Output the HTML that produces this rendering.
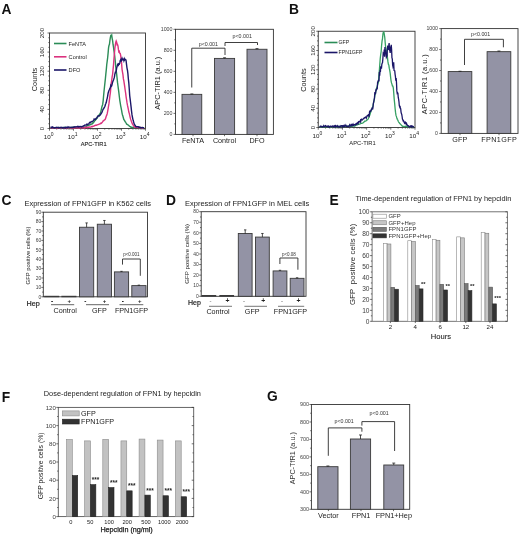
<!DOCTYPE html>
<html><head><meta charset="utf-8"><style>
html,body{margin:0;padding:0;background:#fff;width:520px;height:534px;overflow:hidden}
svg{display:block;will-change:transform}
text{font-family:"Liberation Sans", sans-serif}
</style></head><body>
<svg width="520" height="534" viewBox="0 0 520 534" font-family='"Liberation Sans", sans-serif'>
<rect width="520" height="534" fill="#fff"/>
<text x="1.6" y="14.2" font-size="13.8" text-anchor="start" font-weight="bold" fill="#111">A</text>
<rect x="49.5" y="33" width="96" height="95.5" fill="none" stroke="#333" stroke-width="0.9"/>
<line x1="49.5" y1="128.5" x2="49.5" y2="130.7" stroke="#333" stroke-width="0.7"/>
<line x1="56.72" y1="128.5" x2="56.72" y2="129.7" stroke="#333" stroke-width="0.6"/>
<line x1="60.95" y1="128.5" x2="60.95" y2="129.7" stroke="#333" stroke-width="0.6"/>
<line x1="63.95" y1="128.5" x2="63.95" y2="129.7" stroke="#333" stroke-width="0.6"/>
<line x1="66.28" y1="128.5" x2="66.28" y2="129.7" stroke="#333" stroke-width="0.6"/>
<line x1="68.18" y1="128.5" x2="68.18" y2="129.7" stroke="#333" stroke-width="0.6"/>
<line x1="69.78" y1="128.5" x2="69.78" y2="129.7" stroke="#333" stroke-width="0.6"/>
<line x1="71.17" y1="128.5" x2="71.17" y2="129.7" stroke="#333" stroke-width="0.6"/>
<line x1="72.4" y1="128.5" x2="72.4" y2="129.7" stroke="#333" stroke-width="0.6"/>
<text x="47.2" y="139.1" font-size="6.2" text-anchor="middle" font-weight="normal" fill="#222">10</text>
<text x="52.1" y="136.1" font-size="5" text-anchor="middle" font-weight="normal" fill="#222">0</text>
<line x1="73.5" y1="128.5" x2="73.5" y2="130.7" stroke="#333" stroke-width="0.7"/>
<line x1="80.72" y1="128.5" x2="80.72" y2="129.7" stroke="#333" stroke-width="0.6"/>
<line x1="84.95" y1="128.5" x2="84.95" y2="129.7" stroke="#333" stroke-width="0.6"/>
<line x1="87.95" y1="128.5" x2="87.95" y2="129.7" stroke="#333" stroke-width="0.6"/>
<line x1="90.28" y1="128.5" x2="90.28" y2="129.7" stroke="#333" stroke-width="0.6"/>
<line x1="92.18" y1="128.5" x2="92.18" y2="129.7" stroke="#333" stroke-width="0.6"/>
<line x1="93.78" y1="128.5" x2="93.78" y2="129.7" stroke="#333" stroke-width="0.6"/>
<line x1="95.17" y1="128.5" x2="95.17" y2="129.7" stroke="#333" stroke-width="0.6"/>
<line x1="96.4" y1="128.5" x2="96.4" y2="129.7" stroke="#333" stroke-width="0.6"/>
<text x="71.2" y="139.1" font-size="6.2" text-anchor="middle" font-weight="normal" fill="#222">10</text>
<text x="76.1" y="136.1" font-size="5" text-anchor="middle" font-weight="normal" fill="#222">1</text>
<line x1="97.5" y1="128.5" x2="97.5" y2="130.7" stroke="#333" stroke-width="0.7"/>
<line x1="104.72" y1="128.5" x2="104.72" y2="129.7" stroke="#333" stroke-width="0.6"/>
<line x1="108.95" y1="128.5" x2="108.95" y2="129.7" stroke="#333" stroke-width="0.6"/>
<line x1="111.95" y1="128.5" x2="111.95" y2="129.7" stroke="#333" stroke-width="0.6"/>
<line x1="114.28" y1="128.5" x2="114.28" y2="129.7" stroke="#333" stroke-width="0.6"/>
<line x1="116.18" y1="128.5" x2="116.18" y2="129.7" stroke="#333" stroke-width="0.6"/>
<line x1="117.78" y1="128.5" x2="117.78" y2="129.7" stroke="#333" stroke-width="0.6"/>
<line x1="119.17" y1="128.5" x2="119.17" y2="129.7" stroke="#333" stroke-width="0.6"/>
<line x1="120.4" y1="128.5" x2="120.4" y2="129.7" stroke="#333" stroke-width="0.6"/>
<text x="95.2" y="139.1" font-size="6.2" text-anchor="middle" font-weight="normal" fill="#222">10</text>
<text x="100.1" y="136.1" font-size="5" text-anchor="middle" font-weight="normal" fill="#222">2</text>
<line x1="121.5" y1="128.5" x2="121.5" y2="130.7" stroke="#333" stroke-width="0.7"/>
<line x1="128.72" y1="128.5" x2="128.72" y2="129.7" stroke="#333" stroke-width="0.6"/>
<line x1="132.95" y1="128.5" x2="132.95" y2="129.7" stroke="#333" stroke-width="0.6"/>
<line x1="135.95" y1="128.5" x2="135.95" y2="129.7" stroke="#333" stroke-width="0.6"/>
<line x1="138.28" y1="128.5" x2="138.28" y2="129.7" stroke="#333" stroke-width="0.6"/>
<line x1="140.18" y1="128.5" x2="140.18" y2="129.7" stroke="#333" stroke-width="0.6"/>
<line x1="141.78" y1="128.5" x2="141.78" y2="129.7" stroke="#333" stroke-width="0.6"/>
<line x1="143.17" y1="128.5" x2="143.17" y2="129.7" stroke="#333" stroke-width="0.6"/>
<line x1="144.4" y1="128.5" x2="144.4" y2="129.7" stroke="#333" stroke-width="0.6"/>
<text x="119.2" y="139.1" font-size="6.2" text-anchor="middle" font-weight="normal" fill="#222">10</text>
<text x="124.1" y="136.1" font-size="5" text-anchor="middle" font-weight="normal" fill="#222">3</text>
<line x1="145.5" y1="128.5" x2="145.5" y2="130.7" stroke="#333" stroke-width="0.7"/>
<text x="143.2" y="139.1" font-size="6.2" text-anchor="middle" font-weight="normal" fill="#222">10</text>
<text x="148.1" y="136.1" font-size="5" text-anchor="middle" font-weight="normal" fill="#222">4</text>
<line x1="47.5" y1="128.5" x2="49.5" y2="128.5" stroke="#333" stroke-width="0.7"/>
<text x="44.1" y="128.5" font-size="6.2" text-anchor="middle" font-weight="normal" fill="#222" transform="rotate(-90 44.1 128.5)">0</text>
<line x1="48.3" y1="123.72" x2="49.5" y2="123.72" stroke="#333" stroke-width="0.7"/>
<line x1="48.3" y1="118.95" x2="49.5" y2="118.95" stroke="#333" stroke-width="0.7"/>
<line x1="48.3" y1="114.17" x2="49.5" y2="114.17" stroke="#333" stroke-width="0.7"/>
<line x1="47.5" y1="109.4" x2="49.5" y2="109.4" stroke="#333" stroke-width="0.7"/>
<text x="44.1" y="109.4" font-size="6.2" text-anchor="middle" font-weight="normal" fill="#222" transform="rotate(-90 44.1 109.4)">40</text>
<line x1="48.3" y1="104.62" x2="49.5" y2="104.62" stroke="#333" stroke-width="0.7"/>
<line x1="48.3" y1="99.85" x2="49.5" y2="99.85" stroke="#333" stroke-width="0.7"/>
<line x1="48.3" y1="95.08" x2="49.5" y2="95.08" stroke="#333" stroke-width="0.7"/>
<line x1="47.5" y1="90.3" x2="49.5" y2="90.3" stroke="#333" stroke-width="0.7"/>
<text x="44.1" y="90.3" font-size="6.2" text-anchor="middle" font-weight="normal" fill="#222" transform="rotate(-90 44.1 90.3)">80</text>
<line x1="48.3" y1="85.53" x2="49.5" y2="85.53" stroke="#333" stroke-width="0.7"/>
<line x1="48.3" y1="80.75" x2="49.5" y2="80.75" stroke="#333" stroke-width="0.7"/>
<line x1="48.3" y1="75.97" x2="49.5" y2="75.97" stroke="#333" stroke-width="0.7"/>
<line x1="47.5" y1="71.2" x2="49.5" y2="71.2" stroke="#333" stroke-width="0.7"/>
<text x="44.1" y="71.2" font-size="6.2" text-anchor="middle" font-weight="normal" fill="#222" transform="rotate(-90 44.1 71.2)">120</text>
<line x1="48.3" y1="66.42" x2="49.5" y2="66.42" stroke="#333" stroke-width="0.7"/>
<line x1="48.3" y1="61.65" x2="49.5" y2="61.65" stroke="#333" stroke-width="0.7"/>
<line x1="48.3" y1="56.88" x2="49.5" y2="56.88" stroke="#333" stroke-width="0.7"/>
<line x1="47.5" y1="52.1" x2="49.5" y2="52.1" stroke="#333" stroke-width="0.7"/>
<text x="44.1" y="52.1" font-size="6.2" text-anchor="middle" font-weight="normal" fill="#222" transform="rotate(-90 44.1 52.1)">160</text>
<line x1="48.3" y1="47.33" x2="49.5" y2="47.33" stroke="#333" stroke-width="0.7"/>
<line x1="48.3" y1="42.55" x2="49.5" y2="42.55" stroke="#333" stroke-width="0.7"/>
<line x1="48.3" y1="37.78" x2="49.5" y2="37.78" stroke="#333" stroke-width="0.7"/>
<line x1="47.5" y1="33" x2="49.5" y2="33" stroke="#333" stroke-width="0.7"/>
<text x="44.1" y="33" font-size="6.2" text-anchor="middle" font-weight="normal" fill="#222" transform="rotate(-90 44.1 33)">200</text>
<text x="36.6" y="79.5" font-size="7.4" text-anchor="middle" font-weight="normal" fill="#222" transform="rotate(-90 36.6 79.5)">Counts</text>
<text x="93.6" y="145.5" font-size="5.7" text-anchor="middle" font-weight="normal" fill="#222" stroke="#222" stroke-width="0.1">APC-TIR1</text>
<line x1="54" y1="43.5" x2="66.5" y2="43.5" stroke="#2b8c57" stroke-width="1.6"/>
<text x="68.6" y="45.6" font-size="5.6" text-anchor="start" font-weight="normal" fill="#222">FeNTA</text>
<line x1="54" y1="56.8" x2="66.5" y2="56.8" stroke="#db327e" stroke-width="1.6"/>
<text x="68.6" y="58.9" font-size="5.6" text-anchor="start" font-weight="normal" fill="#222">Control</text>
<line x1="54" y1="70" x2="66.5" y2="70" stroke="#1b1668" stroke-width="1.6"/>
<text x="68.6" y="72.1" font-size="5.6" text-anchor="start" font-weight="normal" fill="#222">DFO</text>
<path d="M50.5 127.91 L50.95 128.1 L51.4 127.85 L51.85 128.03 L52.3 127.92 L52.75 127.86 L53.2 128.1 L53.65 128.05 L54.1 127.96 L54.55 128.03 L55 128.1 L55.45 128 L55.9 128.02 L56.35 127.79 L56.8 127.77 L57.25 127.75 L57.7 127.6 L58.15 127.49 L58.6 127.42 L59.05 127.6 L59.5 127.7 L59.95 127.72 L60.4 127.8 L60.85 127.61 L61.3 127.71 L61.75 127.81 L62.2 127.94 L62.65 127.76 L63.1 127.73 L63.55 127.47 L64 127.57 L64.45 127.35 L64.9 127.37 L65.35 127.77 L65.8 127.45 L66.25 127.76 L66.7 127.84 L67.15 127.78 L67.6 127.86 L68.05 127.92 L68.5 128.03 L68.95 127.88 L69.4 127.75 L69.85 127.68 L70.3 127.57 L70.75 127.65 L71.2 127.57 L71.65 127.81 L72.1 127.46 L72.55 127.4 L73 127.38 L73.45 127.18 L73.9 127.7 L74.35 127.28 L74.8 127.39 L75.25 127.4 L75.7 127.74 L76.15 127.32 L76.6 127.59 L77.05 127.43 L77.5 127.43 L77.95 127.34 L78.4 127.5 L78.85 127.28 L79.3 127.33 L79.75 127.42 L80.2 127.69 L80.65 127.14 L81.1 127.48 L81.55 127.55 L82 127.35 L82.45 127.37 L82.9 127.24 L83.35 127.51 L83.8 127.4 L84.25 127.27 L84.7 127.2 L85.15 127.09 L85.6 126.86 L86.05 126.51 L86.5 126.72 L86.95 126.04 L87.4 125.29 L87.85 125.41 L88.3 125.36 L88.75 125.31 L89.2 125.07 L89.65 124.85 L90.1 124.72 L90.55 124.66 L91 124.26 L91.45 123.96 L91.9 124.14 L92.35 123.63 L92.8 122.84 L93.25 122.9 L93.7 122.39 L94.15 121.62 L94.6 120.88 L95.05 120.6 L95.5 119.99 L95.95 119.4 L96.4 118.82 L96.85 118.25 L97.3 117.95 L97.75 117.03 L98.2 115.92 L98.65 115.56 L99.1 114.83 L99.55 114.31 L100 113.78 L100.45 112.74 L100.9 111.15 L101.35 109.31 L101.8 107.11 L102.25 105.75 L102.7 104.45 L103.15 100.81 L103.6 95.78 L104.05 90.97 L104.5 86.73 L104.95 82.63 L105.4 78.45 L105.85 73.86 L106.3 69.64 L106.75 64.51 L107.2 61.21 L107.65 57.75 L108.1 53.13 L108.55 47.9 L109 45.44 L109.45 44.22 L109.9 40.64 L110.35 37.74 L110.8 35.65 L111.25 35.9 L111.7 35.16 L112.15 38.37 L112.6 40.62 L113.05 44.47 L113.5 47.24 L113.95 50.76 L114.4 53.44 L114.85 57.45 L115.3 61.78 L115.75 66.58 L116.2 70.63 L116.65 73.98 L117.1 78.34 L117.55 82.67 L118 85.98 L118.45 89.33 L118.9 92.8 L119.35 96.77 L119.8 100.35 L120.25 103.18 L120.7 105.85 L121.15 108.1 L121.6 110.37 L122.05 113.09 L122.5 114.94 L122.95 116.3 L123.4 118.06 L123.85 119.57 L124.3 120.1 L124.75 120.86 L125.2 121.77 L125.65 122.09 L126.1 123.05 L126.55 123.94 L127 124.33 L127.45 124.36 L127.9 124.86 L128.35 125.07 L128.8 125.6 L129.25 126.05 L129.7 126.38 L130.15 126.56 L130.6 126.85 L131.05 127.37 L131.5 127.21 L131.95 127.36 L132.4 127.45 L132.85 127.37 L133.3 127.77 L133.75 127.61 L134.2 127.86 L134.65 127.34 L135.1 127.04 L135.55 127.42 L136 127.56 L136.45 127.49 L136.9 127.5 L137.35 127.23 L137.8 127.3 L138.25 127.28 L138.7 127.4 L139.15 127.65 L139.6 127.65 L140.05 127.71 L140.5 127.58 L140.95 127.56 L141.4 127.65 L141.85 127.64 L142.3 127.89 L142.75 127.68 L143.2 128.02 L143.65 127.75 L144.1 127.94" stroke="#2b8c57" stroke-width="1.4" fill="none"/>
<path d="M50.5 127.91 L50.95 127.97 L51.4 127.86 L51.85 127.93 L52.3 128.06 L52.75 128.04 L53.2 128.1 L53.65 127.91 L54.1 127.91 L54.55 127.79 L55 127.71 L55.45 127.77 L55.9 127.86 L56.35 127.93 L56.8 127.98 L57.25 128.1 L57.7 128.1 L58.15 127.79 L58.6 127.86 L59.05 127.77 L59.5 127.74 L59.95 128.01 L60.4 127.9 L60.85 127.58 L61.3 127.77 L61.75 127.77 L62.2 127.63 L62.65 127.6 L63.1 127.63 L63.55 127.74 L64 127.73 L64.45 127.8 L64.9 128.1 L65.35 127.86 L65.8 127.73 L66.25 127.75 L66.7 127.97 L67.15 127.79 L67.6 128.04 L68.05 127.74 L68.5 127.63 L68.95 127.72 L69.4 127.64 L69.85 127.64 L70.3 127.81 L70.75 127.93 L71.2 127.9 L71.65 127.82 L72.1 128.03 L72.55 127.99 L73 127.87 L73.45 128.03 L73.9 127.79 L74.35 127.83 L74.8 127.92 L75.25 127.87 L75.7 127.75 L76.15 127.84 L76.6 127.74 L77.05 127.68 L77.5 127.58 L77.95 127.9 L78.4 127.77 L78.85 127.96 L79.3 127.94 L79.75 127.83 L80.2 127.91 L80.65 127.87 L81.1 127.82 L81.55 127.54 L82 127.62 L82.45 127.78 L82.9 127.78 L83.35 127.85 L83.8 127.95 L84.25 127.82 L84.7 128 L85.15 127.52 L85.6 127.47 L86.05 127.07 L86.5 127.39 L86.95 127.43 L87.4 127.69 L87.85 127.48 L88.3 127.1 L88.75 127.42 L89.2 127.16 L89.65 127.02 L90.1 127.09 L90.55 127.12 L91 126.87 L91.45 126.79 L91.9 126.32 L92.35 126.61 L92.8 126.37 L93.25 126.21 L93.7 126.13 L94.15 125.94 L94.6 125.77 L95.05 125.41 L95.5 125.29 L95.95 125.25 L96.4 125.27 L96.85 124.98 L97.3 124.8 L97.75 124.68 L98.2 124.58 L98.65 124.39 L99.1 124.12 L99.55 123.87 L100 123.97 L100.45 123.54 L100.9 123.08 L101.35 123.34 L101.8 122.75 L102.25 122.26 L102.7 121.67 L103.15 120.93 L103.6 120.82 L104.05 120.3 L104.5 119.87 L104.95 119.68 L105.4 118.97 L105.85 117.49 L106.3 116.03 L106.75 115.17 L107.2 113.67 L107.65 111.31 L108.1 108.82 L108.55 106.01 L109 103.19 L109.45 99.68 L109.9 95.9 L110.35 92.96 L110.8 87.82 L111.25 83.02 L111.7 80.46 L112.15 76.71 L112.6 74.3 L113.05 69.67 L113.5 65.06 L113.95 58.68 L114.4 53.8 L114.85 48.21 L115.3 45.14 L115.75 42.36 L116.2 40.98 L116.65 42.11 L117.1 44.73 L117.55 44.57 L118 46.13 L118.45 49.69 L118.9 51.92 L119.35 51.55 L119.8 53.36 L120.25 53.55 L120.7 55.66 L121.15 59.19 L121.6 63.64 L122.05 69.35 L122.5 72.08 L122.95 74.64 L123.4 78.94 L123.85 80.91 L124.3 83.79 L124.75 86.8 L125.2 90.24 L125.65 93.16 L126.1 96.86 L126.55 99.53 L127 102.71 L127.45 105.22 L127.9 107.26 L128.35 109.48 L128.8 112.09 L129.25 113.3 L129.7 115.39 L130.15 117.32 L130.6 119.15 L131.05 120.38 L131.5 121.69 L131.95 122.81 L132.4 124.06 L132.85 124.43 L133.3 125.43 L133.75 125.98 L134.2 126.84 L134.65 127.24 L135.1 127.23 L135.55 127.18 L136 127.5 L136.45 127.29 L136.9 127.17 L137.35 127.35 L137.8 127.46 L138.25 127.49 L138.7 127.36 L139.15 127.36 L139.6 127.61 L140.05 127.44 L140.5 127.63 L140.95 127.75 L141.4 127.73 L141.85 127.52 L142.3 127.91 L142.75 127.84 L143.2 127.83 L143.65 127.75 L144.1 127.63" stroke="#db327e" stroke-width="1.4" fill="none"/>
<path d="M50.5 127.46 L50.95 127.33 L51.4 127.64 L51.85 127.17 L52.3 127.38 L52.75 127.04 L53.2 127.57 L53.65 127.64 L54.1 127.91 L54.55 127.65 L55 127.71 L55.45 127.59 L55.9 127.43 L56.35 127.53 L56.8 127.28 L57.25 127.34 L57.7 127.59 L58.15 127.57 L58.6 127.46 L59.05 127.94 L59.5 127.73 L59.95 127.49 L60.4 127.52 L60.85 127.39 L61.3 127.35 L61.75 127.33 L62.2 127.81 L62.65 127.63 L63.1 127.57 L63.55 127.63 L64 127.95 L64.45 127.63 L64.9 127.38 L65.35 127.9 L65.8 127.33 L66.25 127.27 L66.7 127.45 L67.15 127.88 L67.6 127.41 L68.05 126.86 L68.5 127.23 L68.95 127.16 L69.4 127.15 L69.85 127.32 L70.3 127.33 L70.75 127.34 L71.2 127.17 L71.65 127.43 L72.1 127.6 L72.55 127.35 L73 127.11 L73.45 127.22 L73.9 127.21 L74.35 126.87 L74.8 126.8 L75.25 127.08 L75.7 126.95 L76.15 126.82 L76.6 126.86 L77.05 126.81 L77.5 126.78 L77.95 126.33 L78.4 126.88 L78.85 126.81 L79.3 126.52 L79.75 126.77 L80.2 126.69 L80.65 126.51 L81.1 126.59 L81.55 126.85 L82 126.54 L82.45 126.56 L82.9 126.65 L83.35 125.92 L83.8 125.61 L84.25 125.66 L84.7 125.01 L85.15 124.92 L85.6 125.15 L86.05 125.12 L86.5 124.91 L86.95 124.12 L87.4 124.66 L87.85 124.4 L88.3 124.24 L88.75 123.93 L89.2 123.06 L89.65 122.53 L90.1 122.17 L90.55 122.65 L91 122.02 L91.45 121.72 L91.9 121.41 L92.35 121.32 L92.8 121.11 L93.25 120.8 L93.7 120.07 L94.15 119.02 L94.6 119.27 L95.05 119.28 L95.5 119.38 L95.95 118.76 L96.4 118.07 L96.85 117.81 L97.3 116.86 L97.75 116.3 L98.2 115.81 L98.65 115.75 L99.1 116.07 L99.55 115.59 L100 115.25 L100.45 114.55 L100.9 114 L101.35 113.24 L101.8 112.7 L102.25 111.44 L102.7 110.36 L103.15 109.14 L103.6 108.74 L104.05 107.89 L104.5 107.08 L104.95 106.27 L105.4 104.49 L105.85 103.53 L106.3 102.31 L106.75 99.9 L107.2 98.34 L107.65 96.03 L108.1 93.22 L108.55 91.82 L109 90.23 L109.45 89.57 L109.9 88.4 L110.35 87.76 L110.8 85.48 L111.25 86.35 L111.7 85.85 L112.15 84.05 L112.6 82.17 L113.05 80.91 L113.5 79.98 L113.95 78.62 L114.4 77.19 L114.85 74.09 L115.3 72.35 L115.75 72.51 L116.2 71.03 L116.65 68.19 L117.1 66.51 L117.55 64.82 L118 64.04 L118.45 64.98 L118.9 63.91 L119.35 64.06 L119.8 62.96 L120.25 60.61 L120.7 59.8 L121.15 61.53 L121.6 59.5 L122.05 58.29 L122.5 59.54 L122.95 59.03 L123.4 59.08 L123.85 60.59 L124.3 58.71 L124.75 59.81 L125.2 59.26 L125.65 59.48 L126.1 60.57 L126.55 64.67 L127 68.04 L127.45 70.24 L127.9 73.68 L128.35 78.95 L128.8 82.94 L129.25 88.69 L129.7 95.58 L130.15 99.16 L130.6 102.77 L131.05 106.64 L131.5 110.87 L131.95 114.42 L132.4 117 L132.85 119.12 L133.3 120.82 L133.75 122.35 L134.2 123.9 L134.65 124.59 L135.1 125.49 L135.55 125.96 L136 126.73 L136.45 126.71 L136.9 126.66 L137.35 126.66 L137.8 126.71 L138.25 126.73 L138.7 127.13 L139.15 127.26 L139.6 127.03 L140.05 127.34 L140.5 127.46 L140.95 127.8 L141.4 127.63 L141.85 127.57 L142.3 127.45 L142.75 127.59 L143.2 127.76 L143.65 127.8 L144.1 127.75" stroke="#1b1668" stroke-width="1.4" fill="none"/>
<rect x="175.5" y="29.3" width="97.9" height="105.1" fill="none" stroke="#333" stroke-width="0.9"/>
<line x1="173.5" y1="134.4" x2="175.5" y2="134.4" stroke="#333" stroke-width="0.7"/>
<text x="172.5" y="136.31" font-size="5.3" text-anchor="end" font-weight="normal" fill="#3c3c3c">0</text>
<line x1="174.3" y1="123.89" x2="175.5" y2="123.89" stroke="#333" stroke-width="0.7"/>
<line x1="173.5" y1="113.38" x2="175.5" y2="113.38" stroke="#333" stroke-width="0.7"/>
<text x="172.5" y="115.29" font-size="5.3" text-anchor="end" font-weight="normal" fill="#3c3c3c">200</text>
<line x1="174.3" y1="102.87" x2="175.5" y2="102.87" stroke="#333" stroke-width="0.7"/>
<line x1="173.5" y1="92.36" x2="175.5" y2="92.36" stroke="#333" stroke-width="0.7"/>
<text x="172.5" y="94.27" font-size="5.3" text-anchor="end" font-weight="normal" fill="#3c3c3c">400</text>
<line x1="174.3" y1="81.85" x2="175.5" y2="81.85" stroke="#333" stroke-width="0.7"/>
<line x1="173.5" y1="71.34" x2="175.5" y2="71.34" stroke="#333" stroke-width="0.7"/>
<text x="172.5" y="73.25" font-size="5.3" text-anchor="end" font-weight="normal" fill="#3c3c3c">600</text>
<line x1="174.3" y1="60.83" x2="175.5" y2="60.83" stroke="#333" stroke-width="0.7"/>
<line x1="173.5" y1="50.32" x2="175.5" y2="50.32" stroke="#333" stroke-width="0.7"/>
<text x="172.5" y="52.23" font-size="5.3" text-anchor="end" font-weight="normal" fill="#3c3c3c">800</text>
<line x1="174.3" y1="39.81" x2="175.5" y2="39.81" stroke="#333" stroke-width="0.7"/>
<line x1="173.5" y1="29.3" x2="175.5" y2="29.3" stroke="#333" stroke-width="0.7"/>
<text x="172.5" y="31.21" font-size="5.3" text-anchor="end" font-weight="normal" fill="#3c3c3c">1000</text>
<text x="160.2" y="83.2" font-size="7.4" text-anchor="middle" font-weight="normal" fill="#222" transform="rotate(-90 160.2 83.2)">APC-TIR1 (a.u.)</text>
<rect x="182" y="94.36" width="19.75" height="40.04" fill="#9393a5" stroke="#3a3a3a" stroke-width="0.9"/>
<line x1="191.88" y1="94.36" x2="191.88" y2="93.94" stroke="#222" stroke-width="0.8"/>
<line x1="190.38" y1="93.94" x2="193.38" y2="93.94" stroke="#222" stroke-width="0.8"/>
<rect x="214.5" y="58.41" width="20.1" height="75.99" fill="#9393a5" stroke="#3a3a3a" stroke-width="0.9"/>
<line x1="224.55" y1="58.41" x2="224.55" y2="57.78" stroke="#222" stroke-width="0.8"/>
<line x1="223.05" y1="57.78" x2="226.05" y2="57.78" stroke="#222" stroke-width="0.8"/>
<rect x="247" y="49.27" width="20" height="85.13" fill="#9393a5" stroke="#3a3a3a" stroke-width="0.9"/>
<line x1="257" y1="49.27" x2="257" y2="48.64" stroke="#222" stroke-width="0.8"/>
<line x1="255.5" y1="48.64" x2="258.5" y2="48.64" stroke="#222" stroke-width="0.8"/>
<line x1="193" y1="134.4" x2="193" y2="136.2" stroke="#333" stroke-width="0.7"/>
<text x="193" y="143.2" font-size="7.2" text-anchor="middle" font-weight="normal" fill="#222">FeNTA</text>
<line x1="224.5" y1="134.4" x2="224.5" y2="136.2" stroke="#333" stroke-width="0.7"/>
<text x="224.5" y="143.2" font-size="7.2" text-anchor="middle" font-weight="normal" fill="#222">Control</text>
<line x1="257" y1="134.4" x2="257" y2="136.2" stroke="#333" stroke-width="0.7"/>
<text x="257" y="143.2" font-size="7.2" text-anchor="middle" font-weight="normal" fill="#222">DFO</text>
<path d="M191.75 87.5 V48.2 H225 V55" stroke="#2a2a2a" stroke-width="0.9" fill="none"/>
<text x="208.38" y="45.5" font-size="5.3" text-anchor="middle" font-weight="normal" fill="#333">p&lt;0.001</text>
<path d="M225 46 V42.5 H257.5 V45" stroke="#2a2a2a" stroke-width="0.9" fill="none"/>
<text x="242.2" y="37.6" font-size="5.3" text-anchor="middle" font-weight="normal" fill="#333">p&lt;0.001</text>
<text x="289" y="14.3" font-size="13.8" text-anchor="start" font-weight="bold" fill="#111">B</text>
<rect x="318.25" y="31.25" width="96.75" height="96.25" fill="none" stroke="#333" stroke-width="0.9"/>
<line x1="318.25" y1="127.5" x2="318.25" y2="129.7" stroke="#333" stroke-width="0.7"/>
<line x1="325.53" y1="127.5" x2="325.53" y2="128.7" stroke="#333" stroke-width="0.6"/>
<line x1="329.79" y1="127.5" x2="329.79" y2="128.7" stroke="#333" stroke-width="0.6"/>
<line x1="332.81" y1="127.5" x2="332.81" y2="128.7" stroke="#333" stroke-width="0.6"/>
<line x1="335.16" y1="127.5" x2="335.16" y2="128.7" stroke="#333" stroke-width="0.6"/>
<line x1="337.07" y1="127.5" x2="337.07" y2="128.7" stroke="#333" stroke-width="0.6"/>
<line x1="338.69" y1="127.5" x2="338.69" y2="128.7" stroke="#333" stroke-width="0.6"/>
<line x1="340.09" y1="127.5" x2="340.09" y2="128.7" stroke="#333" stroke-width="0.6"/>
<line x1="341.33" y1="127.5" x2="341.33" y2="128.7" stroke="#333" stroke-width="0.6"/>
<text x="315.95" y="138.1" font-size="6.2" text-anchor="middle" font-weight="normal" fill="#222">10</text>
<text x="320.85" y="135.1" font-size="5" text-anchor="middle" font-weight="normal" fill="#222">0</text>
<line x1="342.44" y1="127.5" x2="342.44" y2="129.7" stroke="#333" stroke-width="0.7"/>
<line x1="349.72" y1="127.5" x2="349.72" y2="128.7" stroke="#333" stroke-width="0.6"/>
<line x1="353.98" y1="127.5" x2="353.98" y2="128.7" stroke="#333" stroke-width="0.6"/>
<line x1="357" y1="127.5" x2="357" y2="128.7" stroke="#333" stroke-width="0.6"/>
<line x1="359.34" y1="127.5" x2="359.34" y2="128.7" stroke="#333" stroke-width="0.6"/>
<line x1="361.26" y1="127.5" x2="361.26" y2="128.7" stroke="#333" stroke-width="0.6"/>
<line x1="362.88" y1="127.5" x2="362.88" y2="128.7" stroke="#333" stroke-width="0.6"/>
<line x1="364.28" y1="127.5" x2="364.28" y2="128.7" stroke="#333" stroke-width="0.6"/>
<line x1="365.52" y1="127.5" x2="365.52" y2="128.7" stroke="#333" stroke-width="0.6"/>
<text x="340.14" y="138.1" font-size="6.2" text-anchor="middle" font-weight="normal" fill="#222">10</text>
<text x="345.04" y="135.1" font-size="5" text-anchor="middle" font-weight="normal" fill="#222">1</text>
<line x1="366.62" y1="127.5" x2="366.62" y2="129.7" stroke="#333" stroke-width="0.7"/>
<line x1="373.91" y1="127.5" x2="373.91" y2="128.7" stroke="#333" stroke-width="0.6"/>
<line x1="378.17" y1="127.5" x2="378.17" y2="128.7" stroke="#333" stroke-width="0.6"/>
<line x1="381.19" y1="127.5" x2="381.19" y2="128.7" stroke="#333" stroke-width="0.6"/>
<line x1="383.53" y1="127.5" x2="383.53" y2="128.7" stroke="#333" stroke-width="0.6"/>
<line x1="385.45" y1="127.5" x2="385.45" y2="128.7" stroke="#333" stroke-width="0.6"/>
<line x1="387.07" y1="127.5" x2="387.07" y2="128.7" stroke="#333" stroke-width="0.6"/>
<line x1="388.47" y1="127.5" x2="388.47" y2="128.7" stroke="#333" stroke-width="0.6"/>
<line x1="389.71" y1="127.5" x2="389.71" y2="128.7" stroke="#333" stroke-width="0.6"/>
<text x="364.32" y="138.1" font-size="6.2" text-anchor="middle" font-weight="normal" fill="#222">10</text>
<text x="369.23" y="135.1" font-size="5" text-anchor="middle" font-weight="normal" fill="#222">2</text>
<line x1="390.81" y1="127.5" x2="390.81" y2="129.7" stroke="#333" stroke-width="0.7"/>
<line x1="398.09" y1="127.5" x2="398.09" y2="128.7" stroke="#333" stroke-width="0.6"/>
<line x1="402.35" y1="127.5" x2="402.35" y2="128.7" stroke="#333" stroke-width="0.6"/>
<line x1="405.37" y1="127.5" x2="405.37" y2="128.7" stroke="#333" stroke-width="0.6"/>
<line x1="407.72" y1="127.5" x2="407.72" y2="128.7" stroke="#333" stroke-width="0.6"/>
<line x1="409.63" y1="127.5" x2="409.63" y2="128.7" stroke="#333" stroke-width="0.6"/>
<line x1="411.25" y1="127.5" x2="411.25" y2="128.7" stroke="#333" stroke-width="0.6"/>
<line x1="412.66" y1="127.5" x2="412.66" y2="128.7" stroke="#333" stroke-width="0.6"/>
<line x1="413.89" y1="127.5" x2="413.89" y2="128.7" stroke="#333" stroke-width="0.6"/>
<text x="388.51" y="138.1" font-size="6.2" text-anchor="middle" font-weight="normal" fill="#222">10</text>
<text x="393.41" y="135.1" font-size="5" text-anchor="middle" font-weight="normal" fill="#222">3</text>
<line x1="415" y1="127.5" x2="415" y2="129.7" stroke="#333" stroke-width="0.7"/>
<text x="412.7" y="138.1" font-size="6.2" text-anchor="middle" font-weight="normal" fill="#222">10</text>
<text x="417.6" y="135.1" font-size="5" text-anchor="middle" font-weight="normal" fill="#222">4</text>
<line x1="316.25" y1="127.5" x2="318.25" y2="127.5" stroke="#333" stroke-width="0.7"/>
<text x="315.25" y="127.5" font-size="6.2" text-anchor="middle" font-weight="normal" fill="#222" transform="rotate(-90 315.25 127.5)">0</text>
<line x1="317.05" y1="122.69" x2="318.25" y2="122.69" stroke="#333" stroke-width="0.7"/>
<line x1="317.05" y1="117.88" x2="318.25" y2="117.88" stroke="#333" stroke-width="0.7"/>
<line x1="317.05" y1="113.06" x2="318.25" y2="113.06" stroke="#333" stroke-width="0.7"/>
<line x1="316.25" y1="108.25" x2="318.25" y2="108.25" stroke="#333" stroke-width="0.7"/>
<text x="315.25" y="108.25" font-size="6.2" text-anchor="middle" font-weight="normal" fill="#222" transform="rotate(-90 315.25 108.25)">40</text>
<line x1="317.05" y1="103.44" x2="318.25" y2="103.44" stroke="#333" stroke-width="0.7"/>
<line x1="317.05" y1="98.62" x2="318.25" y2="98.62" stroke="#333" stroke-width="0.7"/>
<line x1="317.05" y1="93.81" x2="318.25" y2="93.81" stroke="#333" stroke-width="0.7"/>
<line x1="316.25" y1="89" x2="318.25" y2="89" stroke="#333" stroke-width="0.7"/>
<text x="315.25" y="89" font-size="6.2" text-anchor="middle" font-weight="normal" fill="#222" transform="rotate(-90 315.25 89)">80</text>
<line x1="317.05" y1="84.19" x2="318.25" y2="84.19" stroke="#333" stroke-width="0.7"/>
<line x1="317.05" y1="79.38" x2="318.25" y2="79.38" stroke="#333" stroke-width="0.7"/>
<line x1="317.05" y1="74.56" x2="318.25" y2="74.56" stroke="#333" stroke-width="0.7"/>
<line x1="316.25" y1="69.75" x2="318.25" y2="69.75" stroke="#333" stroke-width="0.7"/>
<text x="315.25" y="69.75" font-size="6.2" text-anchor="middle" font-weight="normal" fill="#222" transform="rotate(-90 315.25 69.75)">120</text>
<line x1="317.05" y1="64.94" x2="318.25" y2="64.94" stroke="#333" stroke-width="0.7"/>
<line x1="317.05" y1="60.12" x2="318.25" y2="60.12" stroke="#333" stroke-width="0.7"/>
<line x1="317.05" y1="55.31" x2="318.25" y2="55.31" stroke="#333" stroke-width="0.7"/>
<line x1="316.25" y1="50.5" x2="318.25" y2="50.5" stroke="#333" stroke-width="0.7"/>
<text x="315.25" y="50.5" font-size="6.2" text-anchor="middle" font-weight="normal" fill="#222" transform="rotate(-90 315.25 50.5)">160</text>
<line x1="317.05" y1="45.69" x2="318.25" y2="45.69" stroke="#333" stroke-width="0.7"/>
<line x1="317.05" y1="40.88" x2="318.25" y2="40.88" stroke="#333" stroke-width="0.7"/>
<line x1="317.05" y1="36.06" x2="318.25" y2="36.06" stroke="#333" stroke-width="0.7"/>
<line x1="316.25" y1="31.25" x2="318.25" y2="31.25" stroke="#333" stroke-width="0.7"/>
<text x="315.25" y="31.25" font-size="6.2" text-anchor="middle" font-weight="normal" fill="#222" transform="rotate(-90 315.25 31.25)">200</text>
<text x="306" y="80" font-size="7.4" text-anchor="middle" font-weight="normal" fill="#222" transform="rotate(-90 306 80)">Counts</text>
<text x="362.5" y="144.5" font-size="5.8" text-anchor="middle" font-weight="normal" fill="#222">APC-TIR1</text>
<line x1="324.5" y1="42.5" x2="337.5" y2="42.5" stroke="#2b8c57" stroke-width="1.6"/>
<text x="338.5" y="44.3" font-size="5.2" text-anchor="start" font-weight="normal" fill="#222">GFP</text>
<line x1="324.5" y1="52.5" x2="337.5" y2="52.5" stroke="#1b1668" stroke-width="1.6"/>
<text x="338.5" y="54.3" font-size="5.2" text-anchor="start" font-weight="normal" fill="#222">FPN1GFP</text>
<path d="M319.5 126.88 L319.95 126.56 L320.4 126.55 L320.85 126.68 L321.3 126.96 L321.75 126.87 L322.2 126.56 L322.65 126.71 L323.1 126.55 L323.55 126.84 L324 126.76 L324.45 127.03 L324.9 126.87 L325.35 126.64 L325.8 126.46 L326.25 126.54 L326.7 126.7 L327.15 126.9 L327.6 126.85 L328.05 126.66 L328.5 126.76 L328.95 126.51 L329.4 126.68 L329.85 126.57 L330.3 126.87 L330.75 126.93 L331.2 126.86 L331.65 126.61 L332.1 126.73 L332.55 126.76 L333 126.62 L333.45 126.54 L333.9 126.8 L334.35 126.66 L334.8 126.72 L335.25 126.9 L335.7 126.54 L336.15 126.87 L336.6 126.91 L337.05 126.66 L337.5 126.49 L337.95 126.36 L338.4 126.63 L338.85 126.22 L339.3 126.56 L339.75 126.6 L340.2 126.48 L340.65 126.43 L341.1 126.42 L341.55 126.42 L342 126.58 L342.45 126.38 L342.9 126.58 L343.35 126.64 L343.8 126.47 L344.25 126.51 L344.7 126.33 L345.15 126.32 L345.6 126.38 L346.05 126.63 L346.5 126.42 L346.95 126.29 L347.4 126.24 L347.85 126.17 L348.3 125.98 L348.75 126.35 L349.2 126.12 L349.65 125.99 L350.1 125.9 L350.55 126.07 L351 126.51 L351.45 126.73 L351.9 126.5 L352.35 126.26 L352.8 126.07 L353.25 125.81 L353.7 125.95 L354.15 125.87 L354.6 126.18 L355.05 125.91 L355.5 125.52 L355.95 125.1 L356.4 124.82 L356.85 125 L357.3 124.96 L357.75 124.6 L358.2 124.28 L358.65 124.35 L359.1 124.19 L359.55 124.13 L360 123.98 L360.45 123.68 L360.9 123.28 L361.35 123.34 L361.8 123.28 L362.25 123.17 L362.7 123.04 L363.15 122.83 L363.6 122.3 L364.05 122.09 L364.5 121.29 L364.95 121.31 L365.4 121.02 L365.85 120.94 L366.3 120.75 L366.75 120.09 L367.2 119.79 L367.65 119.75 L368.1 119.05 L368.55 117.99 L369 116.76 L369.45 115.9 L369.9 114.85 L370.35 113.37 L370.8 111.82 L371.25 110.18 L371.7 109.64 L372.15 108.36 L372.6 107.01 L373.05 105.19 L373.5 102.76 L373.95 101 L374.4 98.97 L374.85 95.68 L375.3 93.91 L375.75 92 L376.2 89.77 L376.65 87.78 L377.1 86.92 L377.55 85 L378 83.68 L378.45 82.1 L378.9 75.22 L379.35 70.58 L379.8 64.29 L380.25 58.32 L380.7 54.48 L381.15 51.5 L381.6 45.31 L382.05 41.12 L382.5 38.56 L382.95 33.77 L383.4 31.97 L383.85 31.89 L384.3 34.38 L384.75 37.31 L385.2 42.74 L385.65 47.07 L386.1 49.08 L386.55 51.72 L387 54.61 L387.45 57.61 L387.9 61.43 L388.35 64.24 L388.8 64.91 L389.25 68.2 L389.7 70.23 L390.15 72.9 L390.6 77.16 L391.05 80.76 L391.5 82.88 L391.95 84.08 L392.4 85.94 L392.85 86.05 L393.3 87.77 L393.75 93.14 L394.2 99.07 L394.65 103.43 L395.1 108.47 L395.55 112.38 L396 115.39 L396.45 116.65 L396.9 118.3 L397.35 119.35 L397.8 120.09 L398.25 121.18 L398.7 122.09 L399.15 122.7 L399.6 123.38 L400.05 123.73 L400.5 124.23 L400.95 124.63 L401.4 125.19 L401.85 125.53 L402.3 126.22 L402.75 126.35 L403.2 126.38 L403.65 126.36 L404.1 126.63 L404.55 126.67 L405 126.42 L405.45 126.28 L405.9 126.47 L406.35 126.5 L406.8 126.47 L407.25 126.53 L407.7 126.81 L408.15 126.68 L408.6 126.86 L409.05 126.66 L409.5 126.61 L409.95 126.68 L410.4 126.66 L410.85 126.6 L411.3 126.48 L411.75 126.55 L412.2 126.58 L412.65 126.67 L413.1 126.9 L413.55 126.93 L414 127.06" stroke="#35a062" stroke-width="1.3" fill="none"/>
<path d="M319.5 126.4 L319.85 126.66 L320.2 126.46 L320.55 126.36 L320.9 126.09 L321.25 126.28 L321.6 126.85 L321.95 126.75 L322.3 126.95 L322.65 126.71 L323 126.69 L323.35 126.6 L323.7 125.86 L324.05 126.61 L324.4 126.69 L324.75 126.71 L325.1 125.88 L325.45 125.6 L325.8 125.85 L326.15 126.08 L326.5 126.44 L326.85 126.42 L327.2 126.62 L327.55 126.23 L327.9 126.48 L328.25 126.59 L328.6 126.21 L328.95 127.01 L329.3 126.8 L329.65 126.98 L330 126.33 L330.35 126.09 L330.7 126.18 L331.05 126.29 L331.4 126.61 L331.75 126.56 L332.1 126.28 L332.45 125.99 L332.8 126.08 L333.15 126.77 L333.5 126.2 L333.85 126.43 L334.2 126.58 L334.55 125.88 L334.9 126.26 L335.25 126.86 L335.6 125.76 L335.95 126.08 L336.3 126.26 L336.65 126.04 L337 126.49 L337.35 126.4 L337.7 125.84 L338.05 126.55 L338.4 126.7 L338.75 126.86 L339.1 127.09 L339.45 126.75 L339.8 126.55 L340.15 125.94 L340.5 126.48 L340.85 126.15 L341.2 126.1 L341.55 125.76 L341.9 125.76 L342.25 125.92 L342.6 126.66 L342.95 125.58 L343.3 125.46 L343.65 126.08 L344 126.73 L344.35 126.57 L344.7 125.53 L345.05 124.96 L345.4 125.92 L345.75 125.76 L346.1 125.55 L346.45 126.3 L346.8 126.56 L347.15 126.26 L347.5 126.19 L347.85 126.23 L348.2 126.66 L348.55 126.34 L348.9 126.15 L349.25 126.06 L349.6 125.11 L349.95 125.95 L350.3 126.01 L350.65 125.8 L351 124.64 L351.35 124.8 L351.7 125.42 L352.05 124.42 L352.4 124.76 L352.75 125.33 L353.1 124.44 L353.45 125.39 L353.8 125.16 L354.15 124.73 L354.5 124.76 L354.85 124.78 L355.2 124.44 L355.55 124.69 L355.9 123.82 L356.25 123.56 L356.6 124.07 L356.95 123.62 L357.3 122.93 L357.65 123.51 L358 123.83 L358.35 122.72 L358.7 121.68 L359.05 121.79 L359.4 121.6 L359.75 121.25 L360.1 121.87 L360.45 120.47 L360.8 121.15 L361.15 119.66 L361.5 119.28 L361.85 119.8 L362.2 120.06 L362.55 119.82 L362.9 119.25 L363.25 118.78 L363.6 118.48 L363.95 118.49 L364.3 117.83 L364.65 117.76 L365 117.77 L365.35 117.21 L365.7 117.4 L366.05 117.16 L366.4 117.95 L366.75 116.81 L367.1 115.74 L367.45 115.29 L367.8 115.25 L368.15 115.77 L368.5 114.8 L368.85 114.89 L369.2 115.63 L369.55 111.76 L369.9 111.25 L370.25 111.75 L370.6 111.54 L370.95 110.85 L371.3 109.53 L371.65 109.66 L372 108.86 L372.35 107.32 L372.7 109.37 L373.05 106.63 L373.4 103.47 L373.75 101.79 L374.1 99.89 L374.45 98.28 L374.8 92.96 L375.15 93.22 L375.5 94.3 L375.85 90.18 L376.2 89.45 L376.55 89.71 L376.9 88.71 L377.25 88.68 L377.6 82.18 L377.95 81.69 L378.3 80.64 L378.65 81.02 L379 80.78 L379.35 71.92 L379.7 75.69 L380.05 70.25 L380.4 71.96 L380.75 66.38 L381.1 67.23 L381.45 68.67 L381.8 64.68 L382.15 63.08 L382.5 62.91 L382.85 58.91 L383.2 53.7 L383.55 54.38 L383.9 53.85 L384.25 49.46 L384.6 56.73 L384.95 47.14 L385.3 51.97 L385.65 51.42 L386 53.69 L386.35 57.22 L386.7 56.41 L387.05 55.93 L387.4 48.75 L387.75 45.6 L388.1 50.03 L388.45 46.69 L388.8 45.18 L389.15 43.1 L389.5 50.22 L389.85 50.53 L390.2 52.84 L390.55 46.62 L390.9 47.67 L391.25 44.77 L391.6 49.65 L391.95 57.95 L392.3 58.85 L392.65 65.13 L393 66.76 L393.35 65.63 L393.7 62.35 L394.05 70.41 L394.4 70.65 L394.75 70.87 L395.1 74.32 L395.45 76.58 L395.8 80.64 L396.15 78.14 L396.5 82.73 L396.85 90.9 L397.2 93.19 L397.55 92.78 L397.9 93.33 L398.25 97.44 L398.6 99.17 L398.95 101.56 L399.3 105.54 L399.65 106.66 L400 105.75 L400.35 108.28 L400.7 108.67 L401.05 112.11 L401.4 113.64 L401.75 114.39 L402.1 116.51 L402.45 119 L402.8 119.77 L403.15 120.89 L403.5 120.73 L403.85 121.63 L404.2 122.46 L404.55 123.08 L404.9 122.39 L405.25 123.31 L405.6 122.53 L405.95 122.96 L406.3 122.97 L406.65 124.63 L407 124.39 L407.35 125.12 L407.7 125.54 L408.05 125.96 L408.4 125.79 L408.75 126.09 L409.1 126.82 L409.45 126.38 L409.8 126.46 L410.15 126.69 L410.5 126.32 L410.85 125.81 L411.2 125.96 L411.55 126.66 L411.9 125.85 L412.25 126.03 L412.6 126.73 L412.95 126.88 L413.3 126.65 L413.65 126.91 L414 126.73" stroke="#1b1668" stroke-width="1.3" fill="none"/>
<rect x="441.2" y="28.6" width="76.8" height="104.8" fill="none" stroke="#333" stroke-width="0.9"/>
<line x1="439.2" y1="133.4" x2="441.2" y2="133.4" stroke="#333" stroke-width="0.7"/>
<text x="438" y="135.27" font-size="5.2" text-anchor="end" font-weight="normal" fill="#3c3c3c">0</text>
<line x1="440" y1="122.92" x2="441.2" y2="122.92" stroke="#333" stroke-width="0.7"/>
<line x1="439.2" y1="112.44" x2="441.2" y2="112.44" stroke="#333" stroke-width="0.7"/>
<text x="438" y="114.31" font-size="5.2" text-anchor="end" font-weight="normal" fill="#3c3c3c">200</text>
<line x1="440" y1="101.96" x2="441.2" y2="101.96" stroke="#333" stroke-width="0.7"/>
<line x1="439.2" y1="91.48" x2="441.2" y2="91.48" stroke="#333" stroke-width="0.7"/>
<text x="438" y="93.35" font-size="5.2" text-anchor="end" font-weight="normal" fill="#3c3c3c">400</text>
<line x1="440" y1="81" x2="441.2" y2="81" stroke="#333" stroke-width="0.7"/>
<line x1="439.2" y1="70.52" x2="441.2" y2="70.52" stroke="#333" stroke-width="0.7"/>
<text x="438" y="72.39" font-size="5.2" text-anchor="end" font-weight="normal" fill="#3c3c3c">600</text>
<line x1="440" y1="60.04" x2="441.2" y2="60.04" stroke="#333" stroke-width="0.7"/>
<line x1="439.2" y1="49.56" x2="441.2" y2="49.56" stroke="#333" stroke-width="0.7"/>
<text x="438" y="51.43" font-size="5.2" text-anchor="end" font-weight="normal" fill="#3c3c3c">800</text>
<line x1="440" y1="39.08" x2="441.2" y2="39.08" stroke="#333" stroke-width="0.7"/>
<line x1="439.2" y1="28.6" x2="441.2" y2="28.6" stroke="#333" stroke-width="0.7"/>
<text x="438" y="30.47" font-size="5.2" text-anchor="end" font-weight="normal" fill="#3c3c3c">1000</text>
<text x="426.6" y="83.9" font-size="7.4" text-anchor="middle" font-weight="normal" fill="#222" transform="rotate(-90 426.6 83.9)" letter-spacing="0.5">APC-TIR1 (a.u.)</text>
<rect x="448.2" y="71.57" width="23.6" height="61.83" fill="#9393a5" stroke="#3a3a3a" stroke-width="0.9"/>
<line x1="460" y1="71.57" x2="460" y2="71.25" stroke="#222" stroke-width="0.8"/>
<line x1="458.5" y1="71.25" x2="461.5" y2="71.25" stroke="#222" stroke-width="0.8"/>
<rect x="487.1" y="51.66" width="23.7" height="81.74" fill="#9393a5" stroke="#3a3a3a" stroke-width="0.9"/>
<line x1="498.95" y1="51.66" x2="498.95" y2="51.03" stroke="#222" stroke-width="0.8"/>
<line x1="497.45" y1="51.03" x2="500.45" y2="51.03" stroke="#222" stroke-width="0.8"/>
<line x1="460" y1="133.4" x2="460" y2="135.2" stroke="#333" stroke-width="0.7"/>
<line x1="499" y1="133.4" x2="499" y2="135.2" stroke="#333" stroke-width="0.7"/>
<text x="459.9" y="142" font-size="7.2" text-anchor="middle" font-weight="normal" fill="#222" letter-spacing="0.2">GFP</text>
<text x="499.2" y="142" font-size="7.2" text-anchor="middle" font-weight="normal" fill="#222" letter-spacing="0.4">FPN1GFP</text>
<path d="M464.5 65 V39.3 H503.4 V47.3" stroke="#2a2a2a" stroke-width="0.9" fill="none"/>
<text x="480.6" y="36" font-size="5.3" text-anchor="middle" font-weight="normal" fill="#333">p&lt;0.001</text>
<text x="1.4" y="204.7" font-size="13.8" text-anchor="start" font-weight="bold" fill="#111">C</text>
<text x="24.4" y="206" font-size="7.5" text-anchor="start" font-weight="normal" fill="#222">Expression of FPN1GFP in K562 cells</text>
<rect x="43.3" y="212.2" width="104.2" height="84.6" fill="none" stroke="#333" stroke-width="0.9"/>
<line x1="41.3" y1="296.8" x2="43.3" y2="296.8" stroke="#333" stroke-width="0.7"/>
<text x="41.2" y="298.56" font-size="4.9" text-anchor="end" font-weight="normal" fill="#3c3c3c">0</text>
<line x1="42.1" y1="292.1" x2="43.3" y2="292.1" stroke="#333" stroke-width="0.7"/>
<line x1="41.3" y1="287.4" x2="43.3" y2="287.4" stroke="#333" stroke-width="0.7"/>
<text x="41.2" y="289.16" font-size="4.9" text-anchor="end" font-weight="normal" fill="#3c3c3c">10</text>
<line x1="42.1" y1="282.7" x2="43.3" y2="282.7" stroke="#333" stroke-width="0.7"/>
<line x1="41.3" y1="278" x2="43.3" y2="278" stroke="#333" stroke-width="0.7"/>
<text x="41.2" y="279.76" font-size="4.9" text-anchor="end" font-weight="normal" fill="#3c3c3c">20</text>
<line x1="42.1" y1="273.3" x2="43.3" y2="273.3" stroke="#333" stroke-width="0.7"/>
<line x1="41.3" y1="268.6" x2="43.3" y2="268.6" stroke="#333" stroke-width="0.7"/>
<text x="41.2" y="270.36" font-size="4.9" text-anchor="end" font-weight="normal" fill="#3c3c3c">30</text>
<line x1="42.1" y1="263.9" x2="43.3" y2="263.9" stroke="#333" stroke-width="0.7"/>
<line x1="41.3" y1="259.2" x2="43.3" y2="259.2" stroke="#333" stroke-width="0.7"/>
<text x="41.2" y="260.96" font-size="4.9" text-anchor="end" font-weight="normal" fill="#3c3c3c">40</text>
<line x1="42.1" y1="254.5" x2="43.3" y2="254.5" stroke="#333" stroke-width="0.7"/>
<line x1="41.3" y1="249.8" x2="43.3" y2="249.8" stroke="#333" stroke-width="0.7"/>
<text x="41.2" y="251.56" font-size="4.9" text-anchor="end" font-weight="normal" fill="#3c3c3c">50</text>
<line x1="42.1" y1="245.1" x2="43.3" y2="245.1" stroke="#333" stroke-width="0.7"/>
<line x1="41.3" y1="240.4" x2="43.3" y2="240.4" stroke="#333" stroke-width="0.7"/>
<text x="41.2" y="242.16" font-size="4.9" text-anchor="end" font-weight="normal" fill="#3c3c3c">60</text>
<line x1="42.1" y1="235.7" x2="43.3" y2="235.7" stroke="#333" stroke-width="0.7"/>
<line x1="41.3" y1="231" x2="43.3" y2="231" stroke="#333" stroke-width="0.7"/>
<text x="41.2" y="232.76" font-size="4.9" text-anchor="end" font-weight="normal" fill="#3c3c3c">70</text>
<line x1="42.1" y1="226.3" x2="43.3" y2="226.3" stroke="#333" stroke-width="0.7"/>
<line x1="41.3" y1="221.6" x2="43.3" y2="221.6" stroke="#333" stroke-width="0.7"/>
<text x="41.2" y="223.36" font-size="4.9" text-anchor="end" font-weight="normal" fill="#3c3c3c">80</text>
<line x1="42.1" y1="216.9" x2="43.3" y2="216.9" stroke="#333" stroke-width="0.7"/>
<line x1="41.3" y1="212.2" x2="43.3" y2="212.2" stroke="#333" stroke-width="0.7"/>
<text x="41.2" y="213.96" font-size="4.9" text-anchor="end" font-weight="normal" fill="#3c3c3c">90</text>
<text x="30.2" y="255.5" font-size="5.9" text-anchor="middle" font-weight="normal" fill="#222" transform="rotate(-90 30.2 255.5)">GFP positive cells (%)</text>
<rect x="44.6" y="296.24" width="14.2" height="0.56" fill="#9393a5" stroke="#3a3a3a" stroke-width="0.9"/>
<rect x="61.8" y="296.24" width="14.2" height="0.56" fill="#9393a5" stroke="#3a3a3a" stroke-width="0.9"/>
<rect x="79.5" y="227.24" width="14.2" height="69.56" fill="#9393a5" stroke="#3a3a3a" stroke-width="0.9"/>
<line x1="86.6" y1="227.24" x2="86.6" y2="222.92" stroke="#222" stroke-width="0.8"/>
<line x1="85.4" y1="222.92" x2="87.8" y2="222.92" stroke="#222" stroke-width="0.8"/>
<rect x="97.3" y="224.23" width="14.2" height="72.57" fill="#9393a5" stroke="#3a3a3a" stroke-width="0.9"/>
<line x1="104.4" y1="224.23" x2="104.4" y2="220.47" stroke="#222" stroke-width="0.8"/>
<line x1="103.2" y1="220.47" x2="105.6" y2="220.47" stroke="#222" stroke-width="0.8"/>
<rect x="114.4" y="271.89" width="14.2" height="24.91" fill="#9393a5" stroke="#3a3a3a" stroke-width="0.9"/>
<line x1="121.5" y1="271.89" x2="121.5" y2="271.33" stroke="#222" stroke-width="0.8"/>
<line x1="120.3" y1="271.33" x2="122.7" y2="271.33" stroke="#222" stroke-width="0.8"/>
<rect x="131.8" y="285.61" width="14.2" height="11.19" fill="#9393a5" stroke="#3a3a3a" stroke-width="0.9"/>
<line x1="138.9" y1="285.61" x2="138.9" y2="285.14" stroke="#222" stroke-width="0.8"/>
<line x1="137.7" y1="285.14" x2="140.1" y2="285.14" stroke="#222" stroke-width="0.8"/>
<path d="M122.5 264.6 V259 H140.3 V275.8" stroke="#2a2a2a" stroke-width="0.9" fill="none"/>
<text x="131.4" y="256.2" font-size="4.5" text-anchor="middle" font-weight="normal" fill="#333">p&lt;0.001</text>
<text x="26.5" y="305.5" font-size="7.2" text-anchor="start" font-weight="normal" fill="#222" stroke="#222" stroke-width="0.2">Hep</text>
<text x="52" y="303" font-size="6.4" text-anchor="middle" font-weight="bold" fill="#222">-</text>
<text x="69.2" y="302.8" font-size="6" text-anchor="middle" font-weight="bold" fill="#222">+</text>
<text x="85.4" y="303" font-size="6.4" text-anchor="middle" font-weight="bold" fill="#222">-</text>
<text x="104.4" y="302.8" font-size="6" text-anchor="middle" font-weight="bold" fill="#222">+</text>
<text x="122.8" y="303" font-size="6.4" text-anchor="middle" font-weight="bold" fill="#222">-</text>
<text x="139.8" y="302.8" font-size="6" text-anchor="middle" font-weight="bold" fill="#222">+</text>
<line x1="51" y1="304.7" x2="74.2" y2="304.7" stroke="#555" stroke-width="0.9"/>
<text x="65.2" y="313" font-size="7.2" text-anchor="middle" font-weight="normal" fill="#222">Control</text>
<line x1="86" y1="304.7" x2="109" y2="304.7" stroke="#555" stroke-width="0.9"/>
<text x="99.4" y="313" font-size="7.2" text-anchor="middle" font-weight="normal" fill="#222">GFP</text>
<line x1="119.5" y1="304.7" x2="143.3" y2="304.7" stroke="#555" stroke-width="0.9"/>
<text x="131.5" y="313" font-size="7.2" text-anchor="middle" font-weight="normal" fill="#222">FPN1GFP</text>
<text x="166.1" y="204.9" font-size="13.8" text-anchor="start" font-weight="bold" fill="#111">D</text>
<text x="185" y="206" font-size="7.5" text-anchor="start" font-weight="normal" fill="#222">Expression of FPN1GFP in MEL cells</text>
<rect x="201.2" y="211.7" width="104.8" height="84.6" fill="none" stroke="#333" stroke-width="0.9"/>
<line x1="199.2" y1="296.3" x2="201.2" y2="296.3" stroke="#333" stroke-width="0.7"/>
<text x="198.7" y="298.06" font-size="4.9" text-anchor="end" font-weight="normal" fill="#3c3c3c">0</text>
<line x1="200" y1="291.01" x2="201.2" y2="291.01" stroke="#333" stroke-width="0.7"/>
<line x1="199.2" y1="285.73" x2="201.2" y2="285.73" stroke="#333" stroke-width="0.7"/>
<text x="198.7" y="287.49" font-size="4.9" text-anchor="end" font-weight="normal" fill="#3c3c3c">10</text>
<line x1="200" y1="280.44" x2="201.2" y2="280.44" stroke="#333" stroke-width="0.7"/>
<line x1="199.2" y1="275.15" x2="201.2" y2="275.15" stroke="#333" stroke-width="0.7"/>
<text x="198.7" y="276.91" font-size="4.9" text-anchor="end" font-weight="normal" fill="#3c3c3c">20</text>
<line x1="200" y1="269.86" x2="201.2" y2="269.86" stroke="#333" stroke-width="0.7"/>
<line x1="199.2" y1="264.57" x2="201.2" y2="264.57" stroke="#333" stroke-width="0.7"/>
<text x="198.7" y="266.34" font-size="4.9" text-anchor="end" font-weight="normal" fill="#3c3c3c">30</text>
<line x1="200" y1="259.29" x2="201.2" y2="259.29" stroke="#333" stroke-width="0.7"/>
<line x1="199.2" y1="254" x2="201.2" y2="254" stroke="#333" stroke-width="0.7"/>
<text x="198.7" y="255.76" font-size="4.9" text-anchor="end" font-weight="normal" fill="#3c3c3c">40</text>
<line x1="200" y1="248.71" x2="201.2" y2="248.71" stroke="#333" stroke-width="0.7"/>
<line x1="199.2" y1="243.43" x2="201.2" y2="243.43" stroke="#333" stroke-width="0.7"/>
<text x="198.7" y="245.19" font-size="4.9" text-anchor="end" font-weight="normal" fill="#3c3c3c">50</text>
<line x1="200" y1="238.14" x2="201.2" y2="238.14" stroke="#333" stroke-width="0.7"/>
<line x1="199.2" y1="232.85" x2="201.2" y2="232.85" stroke="#333" stroke-width="0.7"/>
<text x="198.7" y="234.61" font-size="4.9" text-anchor="end" font-weight="normal" fill="#3c3c3c">60</text>
<line x1="200" y1="227.56" x2="201.2" y2="227.56" stroke="#333" stroke-width="0.7"/>
<line x1="199.2" y1="222.27" x2="201.2" y2="222.27" stroke="#333" stroke-width="0.7"/>
<text x="198.7" y="224.04" font-size="4.9" text-anchor="end" font-weight="normal" fill="#3c3c3c">70</text>
<line x1="200" y1="216.99" x2="201.2" y2="216.99" stroke="#333" stroke-width="0.7"/>
<line x1="199.2" y1="211.7" x2="201.2" y2="211.7" stroke="#333" stroke-width="0.7"/>
<text x="198.7" y="213.46" font-size="4.9" text-anchor="end" font-weight="normal" fill="#3c3c3c">80</text>
<text x="188.6" y="253.8" font-size="6.1" text-anchor="middle" font-weight="normal" fill="#222" transform="rotate(-90 188.6 253.8)">GFP positive cells (%)</text>
<rect x="202" y="295.45" width="13.8" height="0.85" fill="#9393a5" stroke="#3a3a3a" stroke-width="0.9"/>
<rect x="219.8" y="295.45" width="13.8" height="0.85" fill="#9393a5" stroke="#3a3a3a" stroke-width="0.9"/>
<rect x="238.3" y="233.48" width="13.8" height="62.82" fill="#9393a5" stroke="#3a3a3a" stroke-width="0.9"/>
<line x1="245.2" y1="233.48" x2="245.2" y2="229.89" stroke="#222" stroke-width="0.8"/>
<line x1="244" y1="229.89" x2="246.4" y2="229.89" stroke="#222" stroke-width="0.8"/>
<rect x="255.5" y="237.08" width="13.8" height="59.22" fill="#9393a5" stroke="#3a3a3a" stroke-width="0.9"/>
<line x1="262.4" y1="237.08" x2="262.4" y2="233.48" stroke="#222" stroke-width="0.8"/>
<line x1="261.2" y1="233.48" x2="263.6" y2="233.48" stroke="#222" stroke-width="0.8"/>
<rect x="273.1" y="270.92" width="13.8" height="25.38" fill="#9393a5" stroke="#3a3a3a" stroke-width="0.9"/>
<line x1="280" y1="270.92" x2="280" y2="270.29" stroke="#222" stroke-width="0.8"/>
<line x1="278.8" y1="270.29" x2="281.2" y2="270.29" stroke="#222" stroke-width="0.8"/>
<rect x="290.2" y="278.32" width="13.8" height="17.98" fill="#9393a5" stroke="#3a3a3a" stroke-width="0.9"/>
<line x1="297.1" y1="278.32" x2="297.1" y2="277.79" stroke="#222" stroke-width="0.8"/>
<line x1="295.9" y1="277.79" x2="298.3" y2="277.79" stroke="#222" stroke-width="0.8"/>
<path d="M279.9 264 V258 H297.9 V269.7" stroke="#2a2a2a" stroke-width="0.9" fill="none"/>
<text x="288.9" y="255.5" font-size="4.5" text-anchor="middle" font-weight="normal" fill="#333">p&lt;0.08</text>
<text x="188" y="305.3" font-size="7" text-anchor="start" font-weight="normal" fill="#222" stroke="#222" stroke-width="0.2">Hep</text>
<text x="210.6" y="303.2" font-size="6" text-anchor="middle" font-weight="normal" fill="#555">-</text>
<text x="227.4" y="303.4" font-size="6.8" text-anchor="middle" font-weight="bold" fill="#222">+</text>
<text x="244" y="303.2" font-size="6" text-anchor="middle" font-weight="normal" fill="#555">-</text>
<text x="263.3" y="303.4" font-size="6.8" text-anchor="middle" font-weight="bold" fill="#222">+</text>
<text x="282" y="303.2" font-size="6" text-anchor="middle" font-weight="normal" fill="#555">-</text>
<text x="298.5" y="303.4" font-size="6.8" text-anchor="middle" font-weight="bold" fill="#222">+</text>
<line x1="209" y1="306.3" x2="232" y2="306.3" stroke="#555" stroke-width="0.8"/>
<text x="218" y="313.5" font-size="7.2" text-anchor="middle" font-weight="normal" fill="#222">Control</text>
<line x1="244.4" y1="306.3" x2="267" y2="306.3" stroke="#555" stroke-width="0.8"/>
<text x="252.2" y="313.5" font-size="7.2" text-anchor="middle" font-weight="normal" fill="#222">GFP</text>
<line x1="278" y1="306.3" x2="304.2" y2="306.3" stroke="#555" stroke-width="0.8"/>
<text x="290.4" y="313.5" font-size="7.2" text-anchor="middle" font-weight="normal" fill="#222">FPN1GFP</text>
<text x="329.4" y="204.8" font-size="13.8" text-anchor="start" font-weight="bold" fill="#111">E</text>
<text x="355.6" y="201" font-size="7.35" text-anchor="start" font-weight="normal" fill="#222">Time-dependent regulation of FPN1 by hepcidin</text>
<rect x="372.1" y="211.8" width="135.3" height="109.5" fill="none" stroke="#666" stroke-width="0.9"/>
<line x1="370.1" y1="321.3" x2="372.1" y2="321.3" stroke="#333" stroke-width="0.7"/>
<line x1="507.4" y1="321.3" x2="505.4" y2="321.3" stroke="#333" stroke-width="0.7"/>
<text x="369.5" y="323.68" font-size="6.6" text-anchor="end" font-weight="normal" fill="#3c3c3c">0</text>
<line x1="370.9" y1="315.82" x2="372.1" y2="315.82" stroke="#333" stroke-width="0.7"/>
<line x1="507.4" y1="315.82" x2="506.2" y2="315.82" stroke="#333" stroke-width="0.7"/>
<line x1="370.1" y1="310.35" x2="372.1" y2="310.35" stroke="#333" stroke-width="0.7"/>
<line x1="507.4" y1="310.35" x2="505.4" y2="310.35" stroke="#333" stroke-width="0.7"/>
<text x="369.5" y="312.73" font-size="6.6" text-anchor="end" font-weight="normal" fill="#3c3c3c">10</text>
<line x1="370.9" y1="304.88" x2="372.1" y2="304.88" stroke="#333" stroke-width="0.7"/>
<line x1="507.4" y1="304.88" x2="506.2" y2="304.88" stroke="#333" stroke-width="0.7"/>
<line x1="370.1" y1="299.4" x2="372.1" y2="299.4" stroke="#333" stroke-width="0.7"/>
<line x1="507.4" y1="299.4" x2="505.4" y2="299.4" stroke="#333" stroke-width="0.7"/>
<text x="369.5" y="301.78" font-size="6.6" text-anchor="end" font-weight="normal" fill="#3c3c3c">20</text>
<line x1="370.9" y1="293.93" x2="372.1" y2="293.93" stroke="#333" stroke-width="0.7"/>
<line x1="507.4" y1="293.93" x2="506.2" y2="293.93" stroke="#333" stroke-width="0.7"/>
<line x1="370.1" y1="288.45" x2="372.1" y2="288.45" stroke="#333" stroke-width="0.7"/>
<line x1="507.4" y1="288.45" x2="505.4" y2="288.45" stroke="#333" stroke-width="0.7"/>
<text x="369.5" y="290.83" font-size="6.6" text-anchor="end" font-weight="normal" fill="#3c3c3c">30</text>
<line x1="370.9" y1="282.98" x2="372.1" y2="282.98" stroke="#333" stroke-width="0.7"/>
<line x1="507.4" y1="282.98" x2="506.2" y2="282.98" stroke="#333" stroke-width="0.7"/>
<line x1="370.1" y1="277.5" x2="372.1" y2="277.5" stroke="#333" stroke-width="0.7"/>
<line x1="507.4" y1="277.5" x2="505.4" y2="277.5" stroke="#333" stroke-width="0.7"/>
<text x="369.5" y="279.88" font-size="6.6" text-anchor="end" font-weight="normal" fill="#3c3c3c">40</text>
<line x1="370.9" y1="272.03" x2="372.1" y2="272.03" stroke="#333" stroke-width="0.7"/>
<line x1="507.4" y1="272.03" x2="506.2" y2="272.03" stroke="#333" stroke-width="0.7"/>
<line x1="370.1" y1="266.55" x2="372.1" y2="266.55" stroke="#333" stroke-width="0.7"/>
<line x1="507.4" y1="266.55" x2="505.4" y2="266.55" stroke="#333" stroke-width="0.7"/>
<text x="369.5" y="268.93" font-size="6.6" text-anchor="end" font-weight="normal" fill="#3c3c3c">50</text>
<line x1="370.9" y1="261.07" x2="372.1" y2="261.07" stroke="#333" stroke-width="0.7"/>
<line x1="507.4" y1="261.07" x2="506.2" y2="261.07" stroke="#333" stroke-width="0.7"/>
<line x1="370.1" y1="255.6" x2="372.1" y2="255.6" stroke="#333" stroke-width="0.7"/>
<line x1="507.4" y1="255.6" x2="505.4" y2="255.6" stroke="#333" stroke-width="0.7"/>
<text x="369.5" y="257.98" font-size="6.6" text-anchor="end" font-weight="normal" fill="#3c3c3c">60</text>
<line x1="370.9" y1="250.12" x2="372.1" y2="250.12" stroke="#333" stroke-width="0.7"/>
<line x1="507.4" y1="250.12" x2="506.2" y2="250.12" stroke="#333" stroke-width="0.7"/>
<line x1="370.1" y1="244.65" x2="372.1" y2="244.65" stroke="#333" stroke-width="0.7"/>
<line x1="507.4" y1="244.65" x2="505.4" y2="244.65" stroke="#333" stroke-width="0.7"/>
<text x="369.5" y="247.03" font-size="6.6" text-anchor="end" font-weight="normal" fill="#3c3c3c">70</text>
<line x1="370.9" y1="239.18" x2="372.1" y2="239.18" stroke="#333" stroke-width="0.7"/>
<line x1="507.4" y1="239.18" x2="506.2" y2="239.18" stroke="#333" stroke-width="0.7"/>
<line x1="370.1" y1="233.7" x2="372.1" y2="233.7" stroke="#333" stroke-width="0.7"/>
<line x1="507.4" y1="233.7" x2="505.4" y2="233.7" stroke="#333" stroke-width="0.7"/>
<text x="369.5" y="236.08" font-size="6.6" text-anchor="end" font-weight="normal" fill="#3c3c3c">80</text>
<line x1="370.9" y1="228.23" x2="372.1" y2="228.23" stroke="#333" stroke-width="0.7"/>
<line x1="507.4" y1="228.23" x2="506.2" y2="228.23" stroke="#333" stroke-width="0.7"/>
<line x1="370.1" y1="222.75" x2="372.1" y2="222.75" stroke="#333" stroke-width="0.7"/>
<line x1="507.4" y1="222.75" x2="505.4" y2="222.75" stroke="#333" stroke-width="0.7"/>
<text x="369.5" y="225.13" font-size="6.6" text-anchor="end" font-weight="normal" fill="#3c3c3c">90</text>
<line x1="370.9" y1="217.28" x2="372.1" y2="217.28" stroke="#333" stroke-width="0.7"/>
<line x1="507.4" y1="217.28" x2="506.2" y2="217.28" stroke="#333" stroke-width="0.7"/>
<line x1="370.1" y1="211.8" x2="372.1" y2="211.8" stroke="#333" stroke-width="0.7"/>
<line x1="507.4" y1="211.8" x2="505.4" y2="211.8" stroke="#333" stroke-width="0.7"/>
<text x="369.5" y="214.18" font-size="6.6" text-anchor="end" font-weight="normal" fill="#3c3c3c">100</text>
<text x="354.6" y="264.2" font-size="7.7" text-anchor="middle" font-weight="normal" fill="#222" transform="rotate(-90 354.6 264.2)" letter-spacing="0.17" xml:space="preserve">GFP  positive cells (%)</text>
<rect x="383.3" y="243.56" width="3.8" height="77.75" fill="#ffffff" stroke="#8a8a8a" stroke-width="0.6"/>
<rect x="387.1" y="243.99" width="3.8" height="77.31" fill="#c6c6c6" stroke="#7a7a7a" stroke-width="0.6"/>
<rect x="390.9" y="287.36" width="3.8" height="33.94" fill="#7a7a7a" stroke="#555555" stroke-width="0.6"/>
<rect x="394.7" y="289.22" width="3.8" height="32.08" fill="#333333" stroke="#2a2a2a" stroke-width="0.6"/>
<rect x="407.8" y="240.71" width="3.8" height="80.59" fill="#ffffff" stroke="#8a8a8a" stroke-width="0.6"/>
<rect x="411.6" y="241.58" width="3.8" height="79.72" fill="#c6c6c6" stroke="#7a7a7a" stroke-width="0.6"/>
<rect x="415.4" y="285.49" width="3.8" height="35.81" fill="#7a7a7a" stroke="#555555" stroke-width="0.6"/>
<rect x="419.2" y="288.89" width="3.8" height="32.41" fill="#333333" stroke="#2a2a2a" stroke-width="0.6"/>
<rect x="432.3" y="239.61" width="3.8" height="81.69" fill="#ffffff" stroke="#8a8a8a" stroke-width="0.6"/>
<rect x="436.1" y="240.27" width="3.8" height="81.03" fill="#c6c6c6" stroke="#7a7a7a" stroke-width="0.6"/>
<rect x="439.9" y="284.29" width="3.8" height="37.01" fill="#7a7a7a" stroke="#555555" stroke-width="0.6"/>
<rect x="443.7" y="289.98" width="3.8" height="31.32" fill="#333333" stroke="#2a2a2a" stroke-width="0.6"/>
<rect x="456.7" y="236.88" width="3.8" height="84.42" fill="#ffffff" stroke="#8a8a8a" stroke-width="0.6"/>
<rect x="460.5" y="237.86" width="3.8" height="83.44" fill="#c6c6c6" stroke="#7a7a7a" stroke-width="0.6"/>
<rect x="464.3" y="283.63" width="3.8" height="37.67" fill="#7a7a7a" stroke="#555555" stroke-width="0.6"/>
<rect x="468.1" y="290.64" width="3.8" height="30.66" fill="#333333" stroke="#2a2a2a" stroke-width="0.6"/>
<rect x="481.2" y="232.61" width="3.8" height="88.69" fill="#ffffff" stroke="#8a8a8a" stroke-width="0.6"/>
<rect x="485" y="233.26" width="3.8" height="88.04" fill="#c6c6c6" stroke="#7a7a7a" stroke-width="0.6"/>
<rect x="488.8" y="287.14" width="3.8" height="34.16" fill="#7a7a7a" stroke="#555555" stroke-width="0.6"/>
<rect x="492.6" y="303.89" width="3.8" height="17.41" fill="#333333" stroke="#2a2a2a" stroke-width="0.6"/>
<text x="423.3" y="286.49" font-size="5.8" text-anchor="middle" font-weight="bold" fill="#222">**</text>
<text x="447.8" y="287.58" font-size="5.8" text-anchor="middle" font-weight="bold" fill="#222">**</text>
<text x="472.2" y="288.24" font-size="5.8" text-anchor="middle" font-weight="bold" fill="#222">**</text>
<text x="497.7" y="299.89" font-size="5.8" text-anchor="middle" font-weight="bold" fill="#222">***</text>
<line x1="390.4" y1="321.3" x2="390.4" y2="323.1" stroke="#333" stroke-width="0.7"/>
<text x="390.4" y="329.1" font-size="6.1" text-anchor="middle" font-weight="normal" fill="#222">2</text>
<line x1="415.3" y1="321.3" x2="415.3" y2="323.1" stroke="#333" stroke-width="0.7"/>
<text x="415.3" y="329.1" font-size="6.1" text-anchor="middle" font-weight="normal" fill="#222">4</text>
<line x1="440.1" y1="321.3" x2="440.1" y2="323.1" stroke="#333" stroke-width="0.7"/>
<text x="440.1" y="329.1" font-size="6.1" text-anchor="middle" font-weight="normal" fill="#222">6</text>
<line x1="465.8" y1="321.3" x2="465.8" y2="323.1" stroke="#333" stroke-width="0.7"/>
<text x="465.8" y="329.1" font-size="6.1" text-anchor="middle" font-weight="normal" fill="#222">12</text>
<line x1="490" y1="321.3" x2="490" y2="323.1" stroke="#333" stroke-width="0.7"/>
<text x="490" y="329.1" font-size="6.1" text-anchor="middle" font-weight="normal" fill="#222">24</text>
<text x="440.9" y="338.8" font-size="7.6" text-anchor="middle" font-weight="normal" fill="#222" stroke="#222" stroke-width="0.08">Hours</text>
<rect x="372.9" y="214.2" width="13.4" height="4" fill="#ffffff" stroke="#8a8a8a" stroke-width="0.6"/>
<text x="388.4" y="218.3" font-size="5.95" text-anchor="start" font-weight="normal" fill="#333" letter-spacing="0.1">GFP</text>
<rect x="372.9" y="220.75" width="13.4" height="4" fill="#c6c6c6" stroke="#7a7a7a" stroke-width="0.6"/>
<text x="388.4" y="224.85" font-size="5.95" text-anchor="start" font-weight="normal" fill="#333" letter-spacing="0.1">GFP+Hep</text>
<rect x="372.9" y="227.3" width="13.4" height="4" fill="#7a7a7a" stroke="#555555" stroke-width="0.6"/>
<text x="388.4" y="231.4" font-size="5.95" text-anchor="start" font-weight="normal" fill="#333" letter-spacing="0.1">FPN1GFP</text>
<rect x="372.9" y="233.85" width="13.4" height="4" fill="#333333" stroke="#2a2a2a" stroke-width="0.6"/>
<text x="388.4" y="237.95" font-size="5.95" text-anchor="start" font-weight="normal" fill="#333" letter-spacing="0.1">FPN1GFP+Hep</text>
<text x="1.7" y="401.5" font-size="13.8" text-anchor="start" font-weight="bold" fill="#111">F</text>
<text x="43.8" y="396.2" font-size="7.36" text-anchor="start" font-weight="normal" fill="#222">Dose-dependent regulation of FPN1 by hepcidin</text>
<rect x="58.3" y="407.4" width="135.4" height="109.2" fill="none" stroke="#555" stroke-width="0.9"/>
<line x1="56.3" y1="516.6" x2="58.3" y2="516.6" stroke="#333" stroke-width="0.7"/>
<line x1="193.7" y1="516.6" x2="191.7" y2="516.6" stroke="#333" stroke-width="0.7"/>
<text x="55.9" y="518.8" font-size="6.1" text-anchor="end" font-weight="normal" fill="#3c3c3c">0</text>
<line x1="57.1" y1="507.5" x2="58.3" y2="507.5" stroke="#333" stroke-width="0.7"/>
<line x1="193.7" y1="507.5" x2="192.5" y2="507.5" stroke="#333" stroke-width="0.7"/>
<line x1="56.3" y1="498.4" x2="58.3" y2="498.4" stroke="#333" stroke-width="0.7"/>
<line x1="193.7" y1="498.4" x2="191.7" y2="498.4" stroke="#333" stroke-width="0.7"/>
<text x="55.9" y="500.6" font-size="6.1" text-anchor="end" font-weight="normal" fill="#3c3c3c">20</text>
<line x1="57.1" y1="489.3" x2="58.3" y2="489.3" stroke="#333" stroke-width="0.7"/>
<line x1="193.7" y1="489.3" x2="192.5" y2="489.3" stroke="#333" stroke-width="0.7"/>
<line x1="56.3" y1="480.2" x2="58.3" y2="480.2" stroke="#333" stroke-width="0.7"/>
<line x1="193.7" y1="480.2" x2="191.7" y2="480.2" stroke="#333" stroke-width="0.7"/>
<text x="55.9" y="482.4" font-size="6.1" text-anchor="end" font-weight="normal" fill="#3c3c3c">40</text>
<line x1="57.1" y1="471.1" x2="58.3" y2="471.1" stroke="#333" stroke-width="0.7"/>
<line x1="193.7" y1="471.1" x2="192.5" y2="471.1" stroke="#333" stroke-width="0.7"/>
<line x1="56.3" y1="462" x2="58.3" y2="462" stroke="#333" stroke-width="0.7"/>
<line x1="193.7" y1="462" x2="191.7" y2="462" stroke="#333" stroke-width="0.7"/>
<text x="55.9" y="464.2" font-size="6.1" text-anchor="end" font-weight="normal" fill="#3c3c3c">60</text>
<line x1="57.1" y1="452.9" x2="58.3" y2="452.9" stroke="#333" stroke-width="0.7"/>
<line x1="193.7" y1="452.9" x2="192.5" y2="452.9" stroke="#333" stroke-width="0.7"/>
<line x1="56.3" y1="443.8" x2="58.3" y2="443.8" stroke="#333" stroke-width="0.7"/>
<line x1="193.7" y1="443.8" x2="191.7" y2="443.8" stroke="#333" stroke-width="0.7"/>
<text x="55.9" y="446" font-size="6.1" text-anchor="end" font-weight="normal" fill="#3c3c3c">80</text>
<line x1="57.1" y1="434.7" x2="58.3" y2="434.7" stroke="#333" stroke-width="0.7"/>
<line x1="193.7" y1="434.7" x2="192.5" y2="434.7" stroke="#333" stroke-width="0.7"/>
<line x1="56.3" y1="425.6" x2="58.3" y2="425.6" stroke="#333" stroke-width="0.7"/>
<line x1="193.7" y1="425.6" x2="191.7" y2="425.6" stroke="#333" stroke-width="0.7"/>
<text x="55.9" y="427.8" font-size="6.1" text-anchor="end" font-weight="normal" fill="#3c3c3c">100</text>
<line x1="57.1" y1="416.5" x2="58.3" y2="416.5" stroke="#333" stroke-width="0.7"/>
<line x1="193.7" y1="416.5" x2="192.5" y2="416.5" stroke="#333" stroke-width="0.7"/>
<line x1="56.3" y1="407.4" x2="58.3" y2="407.4" stroke="#333" stroke-width="0.7"/>
<line x1="193.7" y1="407.4" x2="191.7" y2="407.4" stroke="#333" stroke-width="0.7"/>
<text x="55.9" y="409.6" font-size="6.1" text-anchor="end" font-weight="normal" fill="#3c3c3c">120</text>
<text x="42.8" y="465.9" font-size="6.8" text-anchor="middle" font-weight="normal" fill="#222" transform="rotate(-90 42.8 465.9)">GFP positive cells (%)</text>
<rect x="66.5" y="439.52" width="5.8" height="77.08" fill="#c2c2c2" stroke="#8a8a8a" stroke-width="0.6"/>
<rect x="72.3" y="475.56" width="5.4" height="41.04" fill="#333333" stroke="#222" stroke-width="0.6"/>
<rect x="84.65" y="440.89" width="5.8" height="75.71" fill="#c2c2c2" stroke="#8a8a8a" stroke-width="0.6"/>
<rect x="90.45" y="484.66" width="5.4" height="31.94" fill="#333333" stroke="#222" stroke-width="0.6"/>
<text x="95.55" y="482.16" font-size="6.4" text-anchor="middle" font-weight="bold" fill="#222">***</text>
<rect x="102.8" y="439.34" width="5.8" height="77.26" fill="#c2c2c2" stroke="#8a8a8a" stroke-width="0.6"/>
<rect x="108.6" y="487.57" width="5.4" height="29.03" fill="#333333" stroke="#222" stroke-width="0.6"/>
<text x="113.7" y="485.07" font-size="6.4" text-anchor="middle" font-weight="bold" fill="#222">***</text>
<rect x="120.95" y="440.89" width="5.8" height="75.71" fill="#c2c2c2" stroke="#8a8a8a" stroke-width="0.6"/>
<rect x="126.75" y="490.85" width="5.4" height="25.75" fill="#333333" stroke="#222" stroke-width="0.6"/>
<text x="131.85" y="488.35" font-size="6.4" text-anchor="middle" font-weight="bold" fill="#222">***</text>
<rect x="139.1" y="439.07" width="5.8" height="77.53" fill="#c2c2c2" stroke="#8a8a8a" stroke-width="0.6"/>
<rect x="144.9" y="495.12" width="5.4" height="21.48" fill="#333333" stroke="#222" stroke-width="0.6"/>
<text x="150" y="492.62" font-size="6.4" text-anchor="middle" font-weight="bold" fill="#222">***</text>
<rect x="157.25" y="440.07" width="5.8" height="76.53" fill="#c2c2c2" stroke="#8a8a8a" stroke-width="0.6"/>
<rect x="163.05" y="495.76" width="5.4" height="20.84" fill="#333333" stroke="#222" stroke-width="0.6"/>
<text x="168.15" y="493.26" font-size="6.4" text-anchor="middle" font-weight="bold" fill="#222">***</text>
<rect x="175.4" y="440.89" width="5.8" height="75.71" fill="#c2c2c2" stroke="#8a8a8a" stroke-width="0.6"/>
<rect x="181.2" y="496.76" width="5.4" height="19.84" fill="#333333" stroke="#222" stroke-width="0.6"/>
<text x="186.3" y="494.26" font-size="6.4" text-anchor="middle" font-weight="bold" fill="#222">***</text>
<text x="70.9" y="524.4" font-size="5.7" text-anchor="middle" font-weight="normal" fill="#222">0</text>
<text x="90.2" y="524.4" font-size="5.7" text-anchor="middle" font-weight="normal" fill="#222">50</text>
<text x="109.1" y="524.4" font-size="5.7" text-anchor="middle" font-weight="normal" fill="#222">100</text>
<text x="127.2" y="524.4" font-size="5.7" text-anchor="middle" font-weight="normal" fill="#222">200</text>
<text x="146" y="524.4" font-size="5.7" text-anchor="middle" font-weight="normal" fill="#222">500</text>
<text x="164.3" y="524.4" font-size="5.7" text-anchor="middle" font-weight="normal" fill="#222">1000</text>
<text x="182.1" y="524.4" font-size="5.7" text-anchor="middle" font-weight="normal" fill="#222">2000</text>
<text x="126.6" y="532.2" font-size="7.2" text-anchor="middle" font-weight="normal" fill="#222" stroke="#222" stroke-width="0.25">Hepcidin (ng/ml)</text>
<rect x="62.4" y="410.9" width="16.8" height="5" fill="#c2c2c2" stroke="#8a8a8a" stroke-width="0.6"/>
<text x="81" y="415.8" font-size="7.2" text-anchor="start" font-weight="normal" fill="#222">GFP</text>
<rect x="62.4" y="419.2" width="16.8" height="4.8" fill="#333333" stroke="#222" stroke-width="0.6"/>
<text x="81" y="424" font-size="7.2" text-anchor="start" font-weight="normal" fill="#222">FPN1GFP</text>
<text x="267" y="401.3" font-size="13.8" text-anchor="start" font-weight="bold" fill="#111">G</text>
<rect x="311.4" y="404.5" width="98.3" height="104.8" fill="none" stroke="#333" stroke-width="0.9"/>
<line x1="309.4" y1="509.3" x2="311.4" y2="509.3" stroke="#333" stroke-width="0.7"/>
<text x="309.2" y="511.28" font-size="5.5" text-anchor="end" font-weight="normal" fill="#444">300</text>
<line x1="310.2" y1="500.57" x2="311.4" y2="500.57" stroke="#333" stroke-width="0.7"/>
<line x1="309.4" y1="491.83" x2="311.4" y2="491.83" stroke="#333" stroke-width="0.7"/>
<text x="309.2" y="493.81" font-size="5.5" text-anchor="end" font-weight="normal" fill="#444">400</text>
<line x1="310.2" y1="483.1" x2="311.4" y2="483.1" stroke="#333" stroke-width="0.7"/>
<line x1="309.4" y1="474.37" x2="311.4" y2="474.37" stroke="#333" stroke-width="0.7"/>
<text x="309.2" y="476.35" font-size="5.5" text-anchor="end" font-weight="normal" fill="#444">500</text>
<line x1="310.2" y1="465.63" x2="311.4" y2="465.63" stroke="#333" stroke-width="0.7"/>
<line x1="309.4" y1="456.9" x2="311.4" y2="456.9" stroke="#333" stroke-width="0.7"/>
<text x="309.2" y="458.88" font-size="5.5" text-anchor="end" font-weight="normal" fill="#444">600</text>
<line x1="310.2" y1="448.17" x2="311.4" y2="448.17" stroke="#333" stroke-width="0.7"/>
<line x1="309.4" y1="439.43" x2="311.4" y2="439.43" stroke="#333" stroke-width="0.7"/>
<text x="309.2" y="441.41" font-size="5.5" text-anchor="end" font-weight="normal" fill="#444">700</text>
<line x1="310.2" y1="430.7" x2="311.4" y2="430.7" stroke="#333" stroke-width="0.7"/>
<line x1="309.4" y1="421.97" x2="311.4" y2="421.97" stroke="#333" stroke-width="0.7"/>
<text x="309.2" y="423.95" font-size="5.5" text-anchor="end" font-weight="normal" fill="#444">800</text>
<line x1="310.2" y1="413.23" x2="311.4" y2="413.23" stroke="#333" stroke-width="0.7"/>
<line x1="309.4" y1="404.5" x2="311.4" y2="404.5" stroke="#333" stroke-width="0.7"/>
<text x="309.2" y="406.48" font-size="5.5" text-anchor="end" font-weight="normal" fill="#444">900</text>
<text x="295" y="458.2" font-size="7.3" text-anchor="middle" font-weight="normal" fill="#333" transform="rotate(-90 295 458.2)">APC-TfR1 (a.u.)</text>
<rect x="317.8" y="466.68" width="20.2" height="42.62" fill="#9393a5" stroke="#3a3a3a" stroke-width="0.9"/>
<line x1="327.9" y1="466.68" x2="327.9" y2="465.98" stroke="#222" stroke-width="0.8"/>
<line x1="326.4" y1="465.98" x2="329.4" y2="465.98" stroke="#222" stroke-width="0.8"/>
<rect x="350.4" y="439" width="20.2" height="70.3" fill="#9393a5" stroke="#3a3a3a" stroke-width="0.9"/>
<line x1="360.5" y1="439" x2="360.5" y2="434.98" stroke="#222" stroke-width="0.8"/>
<line x1="359" y1="434.98" x2="362" y2="434.98" stroke="#222" stroke-width="0.8"/>
<rect x="383.8" y="465" width="19.9" height="44.3" fill="#9393a5" stroke="#3a3a3a" stroke-width="0.9"/>
<line x1="393.75" y1="465" x2="393.75" y2="463.08" stroke="#222" stroke-width="0.8"/>
<line x1="392.25" y1="463.08" x2="395.25" y2="463.08" stroke="#222" stroke-width="0.8"/>
<line x1="328.4" y1="509.3" x2="328.4" y2="511.1" stroke="#333" stroke-width="0.7"/>
<text x="328.4" y="517.8" font-size="7.3" text-anchor="middle" font-weight="normal" fill="#222">Vector</text>
<line x1="361" y1="509.3" x2="361" y2="511.1" stroke="#333" stroke-width="0.7"/>
<text x="361" y="517.8" font-size="7.3" text-anchor="middle" font-weight="normal" fill="#222">FPN1</text>
<line x1="393.5" y1="509.3" x2="393.5" y2="511.1" stroke="#333" stroke-width="0.7"/>
<text x="393.8" y="517.8" font-size="7.3" text-anchor="middle" font-weight="normal" fill="#222">FPN1+Hep</text>
<path d="M328.3 455.8 V427.9 H361.9 V431.7" stroke="#2a2a2a" stroke-width="0.9" fill="none"/>
<text x="344.1" y="423.3" font-size="5.3" text-anchor="middle" font-weight="normal" fill="#333">p&lt;0.001</text>
<path d="M361.9 425.6 V421.6 H394.6 V451" stroke="#2a2a2a" stroke-width="0.9" fill="none"/>
<text x="379.1" y="414.6" font-size="5.3" text-anchor="middle" font-weight="normal" fill="#333">p&lt;0.001</text>
</svg></body></html>
